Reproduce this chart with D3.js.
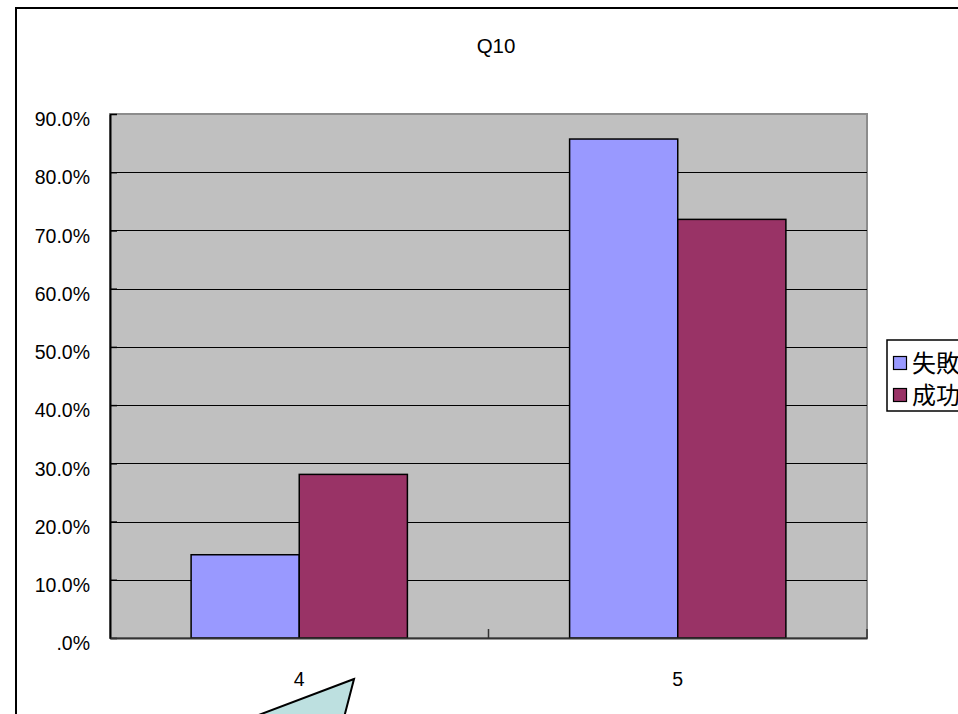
<!DOCTYPE html>
<html>
<head>
<meta charset="utf-8">
<script src="https://cdn.jsdelivr.net/npm/d3@7"></script>
<style>
  html, body { margin: 0; padding: 0; background: #fff; overflow: hidden; }
  svg { display: block; font-family: "Liberation Sans", Arial, sans-serif; }
</style>
</head>
<body>
<svg id="chart" width="958" height="714"></svg>
<script>
// Q10 answers, share of respondents per group
const categories = ["4", "5"];
const seriesNames = ["失敗", "成功"];
const failValues = [0.143, 0.857];
const successValues = [0.281, 0.719];
const seriesColors = ["#9999FF", "#993366"];
const yTickValues = [0, 0.1, 0.2, 0.3, 0.4, 0.5, 0.6, 0.7, 0.8, 0.9];
const yTickLabels = [".0%", "10.0%", "20.0%", "30.0%", "40.0%", "50.0%", "60.0%", "70.0%", "80.0%", "90.0%"];
const chartTitle = "Q10";

const svg = d3.select("#chart");
const plot = { left: 110, right: 867, top: 114, bottom: 638 };

// outer chart frame (continues past the visible area)
svg.append("rect")
  .attr("x", 16).attr("y", 8)
  .attr("width", 1000).attr("height", 800)
  .attr("fill", "#fff").attr("stroke", "#000").attr("stroke-width", 2);

const x = d3.scaleBand()
  .domain(categories)
  .range([plot.left, plot.right])
  .paddingInner(1.5 / 3.5)
  .paddingOuter(0.75 / 3.5);

const xSeries = d3.scaleBand()
  .domain(seriesNames)
  .range([0, x.bandwidth()]);

const y = d3.scaleLinear().domain([0, 0.9]).range([plot.bottom, plot.top]);

// plot area background
svg.append("rect")
  .attr("x", plot.left).attr("y", plot.top)
  .attr("width", plot.right - plot.left).attr("height", plot.bottom - plot.top)
  .attr("fill", "#C0C0C0").attr("stroke", "#8C8C8C").attr("stroke-width", 2);

// horizontal gridlines
svg.append("g")
  .selectAll("line")
  .data(yTickValues.filter(v => v > 0 && v < 0.9))
  .join("line")
  .attr("x1", plot.left).attr("x2", plot.right)
  .attr("y1", d => Math.round(y(d)) + 0.5).attr("y2", d => Math.round(y(d)) + 0.5)
  .attr("stroke", "#000").attr("stroke-width", 1);

// bars
const data = categories.map((c, i) => ({
  cat: c,
  vals: [
    { name: seriesNames[0], v: failValues[i], color: seriesColors[0] },
    { name: seriesNames[1], v: successValues[i], color: seriesColors[1] }
  ]
}));

svg.append("g")
  .selectAll("g")
  .data(data)
  .join("g")
  .attr("transform", d => `translate(${x(d.cat)},0)`)
  .selectAll("rect")
  .data(d => d.vals)
  .join("rect")
  .attr("x", d => xSeries(d.name))
  .attr("y", d => y(d.v))
  .attr("width", xSeries.bandwidth())
  .attr("height", d => y(0) - y(d.v))
  .attr("fill", d => d.color)
  .attr("stroke", "#000").attr("stroke-width", 1.5);

// y axis
const yAxis = d3.axisLeft(y)
  .tickValues(yTickValues)
  .tickFormat((d, i) => yTickLabels[i])
  .tickSizeInner(-7).tickSizeOuter(0).tickPadding(20);
const gy = svg.append("g").attr("transform", `translate(${plot.left},0)`).call(yAxis);
gy.select(".domain").attr("stroke", "#000").attr("stroke-width", 2);
gy.selectAll(".tick line").attr("stroke", "#000").attr("stroke-width", 1.5);
gy.selectAll(".tick text")
  .attr("font-family", "'Liberation Sans', Arial, sans-serif")
  .attr("font-size", 19.5).attr("fill", "#000")
  .attr("dy", "0.6em");

// x axis
const xAxis = d3.axisBottom(x).tickSize(0).tickPadding(34);
const gx = svg.append("g").attr("transform", `translate(0,${plot.bottom})`).call(xAxis);
gx.select(".domain").attr("stroke", "#333").attr("stroke-width", 2);
gx.selectAll(".tick text")
  .attr("font-family", "'Liberation Sans', Arial, sans-serif")
  .attr("font-size", 19.5).attr("fill", "#000");

// category separator ticks
const sepTicks = [plot.left + x.step(), plot.right];
svg.append("g").selectAll("line")
  .data(sepTicks)
  .join("line")
  .attr("x1", d => d).attr("x2", d => d)
  .attr("y1", plot.bottom - 9).attr("y2", plot.bottom)
  .attr("stroke", "#333").attr("stroke-width", 1.5);

// title
svg.append("text")
  .attr("x", 496).attr("y", 53)
  .attr("text-anchor", "middle")
  .attr("font-size", 20.5).attr("fill", "#000")
  .text(chartTitle);

// legend
const legend = svg.append("g").attr("transform", "translate(887,340)");
legend.append("rect")
  .attr("x", 0).attr("y", 0).attr("width", 120).attr("height", 71)
  .attr("fill", "#fff").attr("stroke", "#000").attr("stroke-width", 1.5);
const items = legend.selectAll("g.item")
  .data(seriesNames)
  .join("g").attr("class", "item")
  .attr("transform", (d, i) => `translate(0,${23 + i * 32})`);
items.append("rect")
  .attr("x", 6.5).attr("y", -6.5).attr("width", 13).attr("height", 13)
  .attr("fill", (d, i) => seriesColors[i])
  .attr("stroke", "#000").attr("stroke-width", 1.2);
items.append("text")
  .attr("x", 25).attr("y", 0).attr("dy", "0.36em")
  .attr("font-family", "'Noto Sans CJK JP', 'Noto Sans CJK SC', sans-serif")
  .attr("font-size", 24).attr("fill", "#000")
  .text(d => d);

// callout pointer
svg.append("path")
  .attr("d", d3.line()([[354, 679], [211, 733], [340, 733]]) + "Z")
  .attr("fill", "#BDE0E0").attr("stroke", "#000").attr("stroke-width", 2)
  .attr("stroke-linejoin", "miter");
</script>
</body>
</html>
